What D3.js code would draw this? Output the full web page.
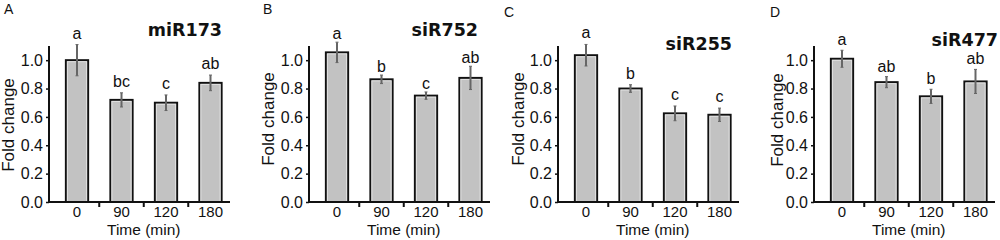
<!DOCTYPE html>
<html lang="en">
<head>
<meta charset="utf-8">
<script src="https://d3js.org/d3.v7.min.js"></script>
<style>
  body { margin: 0; background: #fff; }
  svg { display: block; font-family: "Liberation Sans", Arial, sans-serif; }
</style>
</head>
<body>
<script>
// data
const times = ["0", "90", "120", "180"];
const genes = ["miR173", "siR752", "siR255", "siR477"];
const panelLabels = ["A", "B", "C", "D"];
const yTicks = [0, 0.2, 0.4, 0.6, 0.8, 1.0];

const meansA = [1.00, 0.72, 0.70, 0.84];
const meansB = [1.055, 0.865, 0.75, 0.875];
const meansC = [1.035, 0.80, 0.625, 0.615];
const meansD = [1.01, 0.845, 0.745, 0.85];

const errA = [0.11, 0.05, 0.055, 0.055];
const errB = [0.072, 0.03, 0.026, 0.082];
const errC = [0.076, 0.027, 0.052, 0.047];
const errD = [0.06, 0.039, 0.05, 0.085];

const lettersA = ["a", "bc", "c", "ab"];
const lettersB = ["a", "b", "c", "ab"];
const lettersC = ["a", "b", "c", "c"];
const lettersD = ["a", "ab", "b", "ab"];

const means = [meansA, meansB, meansC, meansD];
const errs = [errA, errB, errC, errD];
const letters = [lettersA, lettersB, lettersC, lettersD];

// layout of each panel
const axisX = [49, 309, 558, 814];
const titleX = [222, 478, 732, 998];
const titleY = [36, 36, 50, 46];
const labelX = [4, 263, 504, 770];
const labelY = [14, 14, 17, 17];
const ylabX = [14, 274, 524, 783];
const ylabY = [125, 119, 119, 120];
const letterGap = [6, 3, 6, 5];

const width = 1000, height = 240;

const svg = d3.select("body").append("svg")
    .attr("width", width)
    .attr("height", height);

// shared y scale: 0 at the x axis, 1.1 at the top of the y axis
const y = d3.scaleLinear().domain([0, 1.1]).range([202, 46]);

genes.forEach((gene, p) => {
    const x0 = axisX[p];
    const x = d3.scaleBand()
        .domain(times)
        .range([x0 + 5.75, x0 + 183.75])
        .paddingInner(0.5)
        .paddingOuter(0.25);

    const g = svg.append("g");
    const rows = times.map((t, i) => ({ t: t, m: means[p][i], e: errs[p][i], l: letters[p][i] }));

    // bars
    g.selectAll("rect.bar").data(rows).enter().append("rect")
        .attr("class", "bar")
        .attr("x", d => x(d.t))
        .attr("y", d => y(d.m))
        .attr("width", x.bandwidth())
        .attr("height", d => y(0) - y(d.m))
        .attr("fill", "#c2c2c2")
        .attr("stroke", "#111")
        .attr("stroke-width", 2);

    // light inner edge of the bars
    g.selectAll("rect.inner").data(rows).enter().append("rect")
        .attr("x", d => x(d.t) + 1.5)
        .attr("y", d => y(d.m) + 1.5)
        .attr("width", x.bandwidth() - 3)
        .attr("height", d => y(0) - y(d.m) - 1.5)
        .attr("fill", "none")
        .attr("stroke", "#e2e2e2")
        .attr("stroke-width", 1);

    // error bars
    const cx = d => x(d.t) + x.bandwidth() / 2;
    g.selectAll("line.err").data(rows).enter().append("line")
        .attr("x1", cx).attr("x2", cx)
        .attr("y1", d => y(d.m + d.e))
        .attr("y2", d => y(d.m - d.e))
        .attr("stroke", "#666")
        .attr("stroke-width", 2);
    g.selectAll("line.capT").data(rows).enter().append("line")
        .attr("x1", d => cx(d) - 1.5).attr("x2", d => cx(d) + 1.5)
        .attr("y1", d => y(d.m + d.e)).attr("y2", d => y(d.m + d.e))
        .attr("stroke", "#666").attr("stroke-width", 1);
    g.selectAll("line.capB").data(rows).enter().append("line")
        .attr("x1", d => cx(d) - 1.5).attr("x2", d => cx(d) + 1.5)
        .attr("y1", d => y(d.m - d.e)).attr("y2", d => y(d.m - d.e))
        .attr("stroke", "#666").attr("stroke-width", 1);

    // significance letters
    g.selectAll("text.sig").data(rows).enter().append("text")
        .attr("x", cx)
        .attr("y", d => y(d.m + d.e) - letterGap[p])
        .attr("text-anchor", "middle")
        .attr("font-size", 16)
        .attr("fill", "#111")
        .text(d => d.l);

    // y axis
    const yAxis = g.append("g")
        .attr("transform", "translate(" + x0 + ",0)")
        .call(d3.axisLeft(y).tickValues(yTicks).tickFormat(d3.format(".1f")).tickSize(3).tickPadding(3));
    yAxis.select(".domain").attr("d", "M0," + y(1.1) + "V" + y(0)).attr("stroke", "#111").attr("stroke-width", 2);
    yAxis.selectAll(".tick line").attr("stroke", "#111").attr("stroke-width", 1.5);
    yAxis.selectAll(".tick text").attr("font-size", 16).attr("fill", "#111")
        .attr("font-family", "Liberation Sans, Arial, sans-serif");

    // x axis
    const xAxis = g.append("g")
        .attr("transform", "translate(0," + y(0) + ")")
        .call(d3.axisBottom(x).tickSize(0).tickPadding(4));
    xAxis.select(".domain").attr("d", "M" + (x0 - 1) + ",0H" + (x0 + 181)).attr("stroke", "#111").attr("stroke-width", 2);
    xAxis.selectAll(".tick text").attr("font-size", 15).attr("fill", "#111")
        .attr("font-family", "Liberation Sans, Arial, sans-serif");
    // ticks between the groups
    xAxis.selectAll("line.sep").data(times.slice(1)).enter().append("line")
        .attr("x1", d => x(d) - x.step() * x.paddingInner() / 2)
        .attr("x2", d => x(d) - x.step() * x.paddingInner() / 2)
        .attr("y1", 0).attr("y2", 5)
        .attr("stroke", "#111").attr("stroke-width", 2);

    // axis titles
    g.append("text")
        .attr("x", (x(times[0]) + x(times[3]) + x.bandwidth()) / 2)
        .attr("y", 234.5)
        .attr("text-anchor", "middle")
        .attr("font-size", 15.5)
        .attr("fill", "#111")
        .text("Time (min)");

    g.append("text")
        .attr("transform", "translate(" + ylabX[p] + "," + ylabY[p] + ") rotate(-90)")
        .attr("text-anchor", "middle")
        .attr("font-size", 17)
        .attr("fill", "#111")
        .text("Fold change");

    // gene title
    g.append("text")
        .attr("x", titleX[p])
        .attr("y", titleY[p])
        .attr("text-anchor", "end")
        .attr("font-family", "DejaVu Sans, sans-serif")
        .attr("font-weight", "bold")
        .attr("font-size", 17.5)
        .attr("fill", "#111")
        .text(gene);

    // panel letter
    g.append("text")
        .attr("x", labelX[p])
        .attr("y", labelY[p])
        .attr("font-size", 14)
        .attr("fill", "#111")
        .text(panelLabels[p]);
});
</script>
</body>
</html>
